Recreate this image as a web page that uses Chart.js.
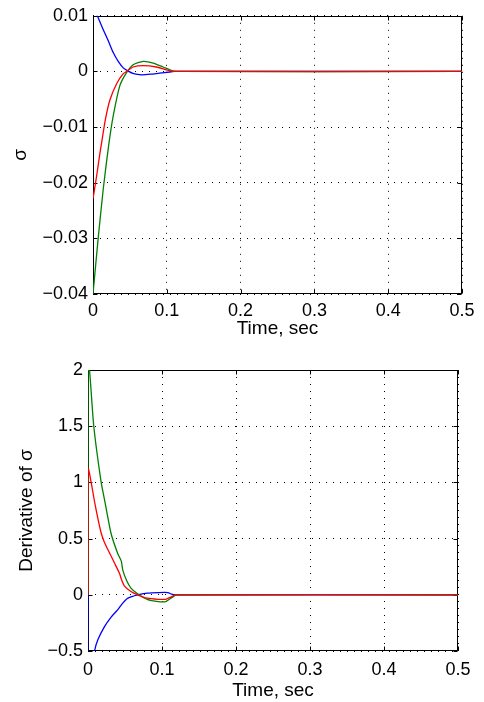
<!DOCTYPE html>
<html><head><meta charset="utf-8">
<script src="https://cdn.jsdelivr.net/npm/chart.js@4/dist/chart.umd.min.js"></script>
<style>
html,body{margin:0;padding:0;background:#fff;width:484px;height:702px;overflow:hidden}
.box{position:absolute;left:0;width:484px}
canvas{display:block}
</style></head><body>
<div class="box" style="top:0;height:350px"><canvas id="c1" width="484" height="350"></canvas></div>
<div class="box" style="top:350px;height:352px"><canvas id="c2" width="484" height="352"></canvas></div>
<script>
// ---------- data: top plot (sigma) ----------
const sigBlueT  = [0, 0.0059, 0.0139, 0.0207, 0.0274, 0.0342, 0.041, 0.0477, 0.055, 0.0657, 0.078, 0.09, 0.104, 0.11, 0.5];
const sigBlueV  = [0.0118, 0.0100, 0.0075, 0.0055, 0.0034, 0.0018, 0.00064, 0.00005, -0.0004, -0.0006, -0.0005, -0.0003, -0.0001, 0, 0];
const sigRedT   = [0, 0.005, 0.0095, 0.0117, 0.0170, 0.023, 0.032, 0.041, 0.0455, 0.0545, 0.068, 0.086, 0.099, 0.11, 0.5];
const sigRedV   = [-0.0229, -0.0187, -0.0146, -0.0128, -0.0085, -0.0051, -0.0022, -0.0004, 0, 0.0008, 0.00104, 0.0008, 0.0003, 0, 0];
const sigGreenT = [0, 0.007, 0.014, 0.021, 0.0274, 0.0365, 0.0455, 0.0545, 0.068, 0.0815, 0.095, 0.106, 0.112, 0.5];
const sigGreenV = [-0.040, -0.030, -0.021, -0.0135, -0.0080, -0.0025, -0.0002, 0.0012, 0.0018, 0.0015, 0.0008, 0.0002, 0, 0];

// ---------- data: bottom plot (derivative of sigma) ----------
const dBlueT  = [0, 0, 0.004, 0.0088, 0.0133, 0.0223, 0.031, 0.040, 0.047, 0.054, 0.067, 0.08, 0.095, 0.108, 0.113, 0.118, 0.5];
const dBlueV  = [0, -0.9, -0.72, -0.5, -0.40, -0.283, -0.20, -0.134, -0.074, -0.03, 0, 0.015, 0.02, 0.02, 0.005, 0, 0];
const dRedT   = [0, 0, 0.0007, 0.0043, 0.0088, 0.0133, 0.0178, 0.022, 0.027, 0.036, 0.0426, 0.045, 0.049, 0.058, 0.067, 0.08, 0.095, 0.105, 0.112, 0.118, 0.5];
const dRedV   = [0, 1.1, 1.12, 1.0, 0.83, 0.68, 0.55, 0.47, 0.40, 0.28, 0.19, 0.14, 0.08, 0.03, 0, -0.03, -0.04, -0.04, -0.02, 0, 0];
const dGreenT = [0, 0, 0.002, 0.0078, 0.0178, 0.0225, 0.031, 0.040, 0.045, 0.047, 0.052, 0.058, 0.067, 0.08, 0.095, 0.105, 0.112, 0.12, 0.5];
const dGreenV = [0, 2.0, 2.0, 1.5, 1.0, 0.84, 0.55, 0.37, 0.30, 0.22, 0.13, 0.06, 0.01, -0.04, -0.06, -0.06, -0.03, 0, 0];

// ---------- tick labels ----------
const xTickLabels    = ['0', '0.1', '0.2', '0.3', '0.4', '0.5'];
const sigTickLabels  = ['\u22120.04', '\u22120.03', '\u22120.02', '\u22120.01', '0', '0.01'];
const dTickLabels    = ['\u22120.5', '0', '0.5', '1', '1.5', '2'];

const FONT = "'Liberation Sans', Arial, Helvetica, sans-serif";
const pts = (t, v) => t.map((tt, i) => ({x: tt, y: v[i]}));

const framePlugin = {
  id: 'frame',
  beforeDatasetsDraw(chart) {
    const {ctx, chartArea: a, scales: {x, y}} = chart;
    ctx.save();
    ctx.strokeStyle = '#000';
    ctx.lineWidth = 1;
    const L = Math.round(a.left) + 0.5, R = Math.round(a.right) - 0.5;
    const T = Math.round(a.top) + 0.5, B = Math.round(a.bottom) - 0.5;
    ctx.strokeRect(L, T, R - L, B - T);
    const tl = 4;
    ctx.beginPath();
    x.ticks.forEach(t => {
      const p = Math.round(x.getPixelForValue(t.value)) + 0.5;
      ctx.moveTo(p, B); ctx.lineTo(p, B - tl);
      ctx.moveTo(p, T); ctx.lineTo(p, T + tl);
    });
    y.ticks.forEach(t => {
      const p = Math.round(y.getPixelForValue(t.value)) + 0.5;
      ctx.moveTo(L, p); ctx.lineTo(L + tl, p);
      ctx.moveTo(R, p); ctx.lineTo(R - tl, p);
    });
    ctx.stroke();
    ctx.restore();
  }
};

function makeChart(id, series, yMin, yMax, yStep, yLabels, yTitle, yTitlePad, cfg) {
  const ds = series.map(s => ({
    data: s.data, borderColor: s.color, borderWidth: 1.3, pointRadius: 0,
    tension: 0.2, fill: false
  }));
  return new Chart(document.getElementById(id), {
    type: 'line',
    data: {datasets: ds},
    options: {
      responsive: false, animation: false, events: [],
      layout: {padding: cfg.padding},
      plugins: {legend: {display: false}, tooltip: {enabled: false}},
      scales: {
        x: {
          type: 'linear', min: 0, max: 0.5,
          afterFit: s => { s.height = cfg.xHeight; },
          ticks: {stepSize: 0.1, color: '#000', padding: cfg.xTickPad,
                  font: {family: FONT, size: 18},
                  callback: (v, i) => xTickLabels[i]},
          grid: {color: '#000', lineWidth: 1, drawTicks: false},
          border: {display: false, dash: [1, 6]},
          title: {display: true, text: 'Time, sec', color: '#000',
                  font: {family: FONT, size: 19}, padding: {top: 0, bottom: cfg.xTitlePad}}
        },
        y: {
          type: 'linear', min: yMin, max: yMax,
          afterFit: s => { s.width = cfg.yWidth; },
          ticks: {stepSize: yStep, color: '#000', padding: 5,
                  font: {family: FONT, size: 18},
                  callback: (v, i) => yLabels[i]},
          grid: {color: '#000', lineWidth: 1, drawTicks: false},
          border: {display: false, dash: [1, 6]},
          title: {display: true, text: yTitle, color: '#000',
                  font: {family: FONT, size: 19}, padding: {top: yTitlePad, bottom: 0}}
        }
      }
    },
    plugins: [framePlugin]
  });
}

// draw order: first dataset is drawn on top -> red, green, blue
makeChart('c1', [
  {data: pts(sigRedT, sigRedV), color: '#ff0000'},
  {data: pts(sigGreenT, sigGreenV), color: '#008000'},
  {data: pts(sigBlueT, sigBlueV), color: '#0000ff'}
], -0.04, 0.01, 0.01, sigTickLabels, '\u03c3', 9,
  {padding: {left: 0, right: 22, top: 11, bottom: 0}, xHeight: 56, yWidth: 93, xTickPad: 6, xTitlePad: 10});

makeChart('c2', [
  {data: pts(dRedT, dRedV), color: '#ff0000'},
  {data: pts(dGreenT, dGreenV), color: '#008000'},
  {data: pts(dBlueT, dBlueV), color: '#0000ff'}
], -0.5, 2, 0.5, dTickLabels, 'Derivative of \u03c3', 15,
  {padding: {left: 0, right: 26, top: 20, bottom: 0}, xHeight: 51, yWidth: 88, xTickPad: 8, xTitlePad: 0});
</script>
</body></html>
